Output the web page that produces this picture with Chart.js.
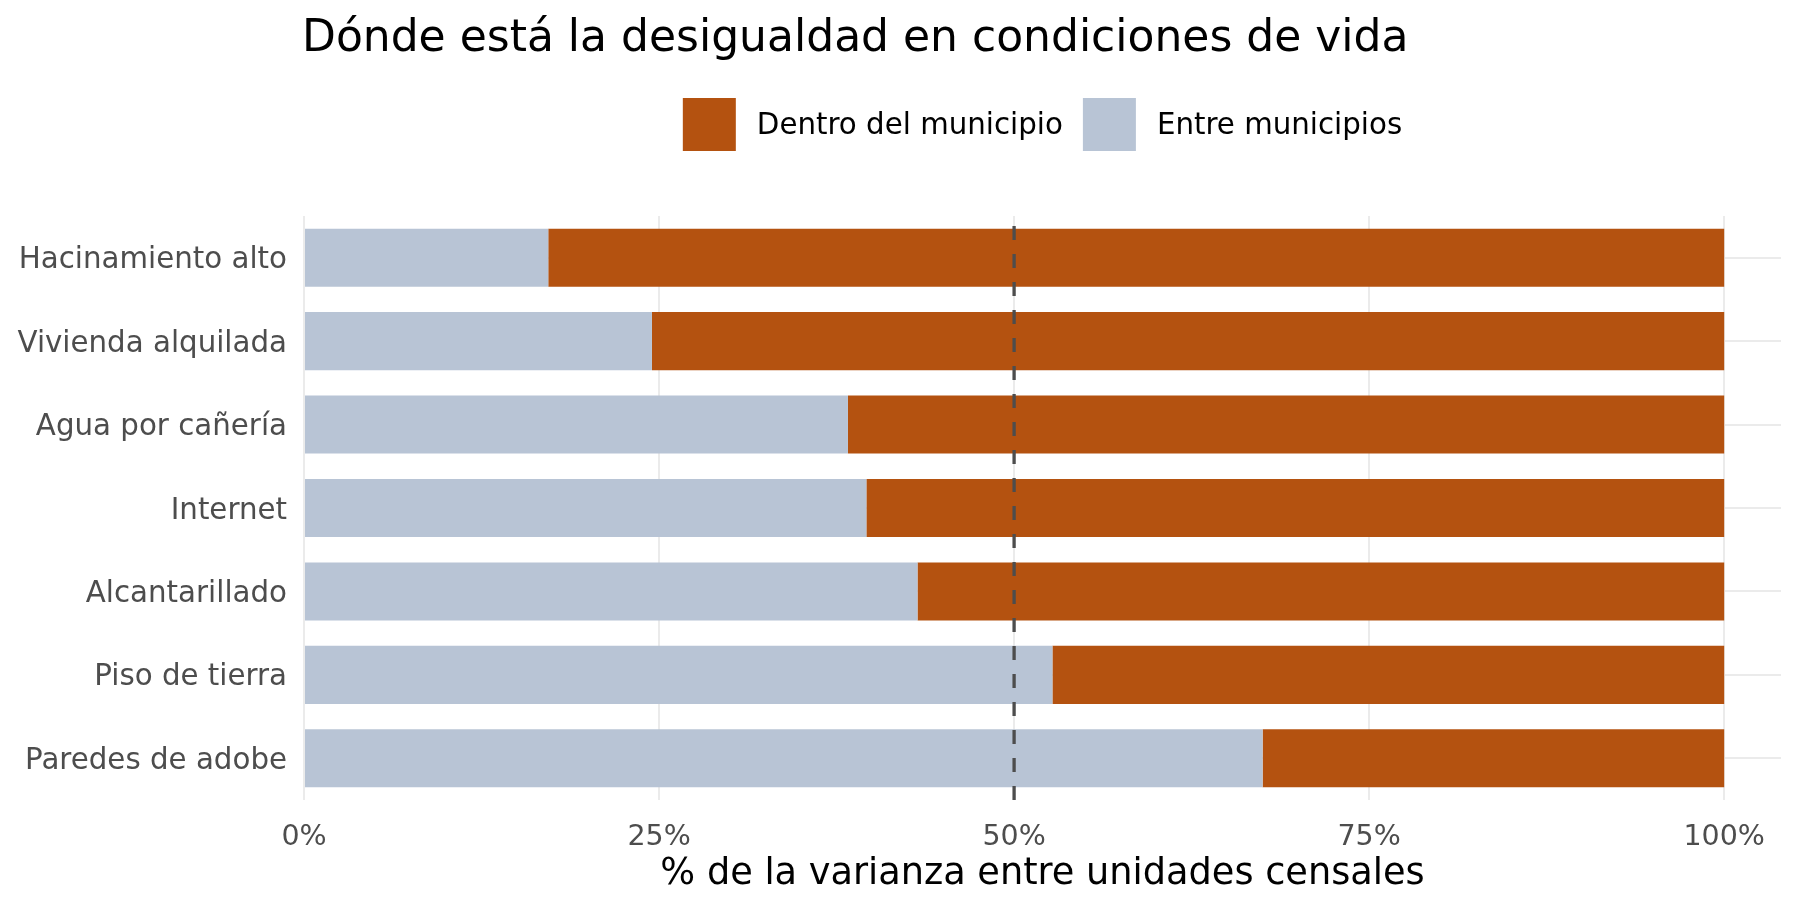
<!DOCTYPE html>
<html lang="es">
<head>
<meta charset="UTF-8">
<title>Desigualdad en condiciones de vida</title>
<script src="https://cdn.jsdelivr.net/npm/chart.js"></script>
<style>
  body { margin: 0; background: #ffffff; }
  #wrap { width: 1800px; height: 912px; }
</style>
</head>
<body>
<div id="wrap"><canvas id="chart" width="1800" height="912"></canvas></div>
<script>
const chartTitle = 'Dónde está la desigualdad en condiciones de vida';
const xTitle = '% de la varianza entre unidades censales';
const categories = ['Hacinamiento alto', 'Vivienda alquilada', 'Agua por cañería', 'Internet', 'Alcantarillado', 'Piso de tierra', 'Paredes de adobe'];
const entreMunicipios = [17.2, 24.5, 38.3, 39.6, 43.2, 52.7, 67.5];
const dentroMunicipio = [82.8, 75.5, 61.7, 60.4, 56.8, 47.3, 32.5];
const xTicks = [0, 25, 50, 75, 100];
const xMax = 104;
const refLine = 50;

const FONT = "'DejaVu Sans', sans-serif";
const RED = '#b45210';
const BLUE = '#b8c4d5';
const GRID = '#ebebeb';
const TEXT_GRAY = '#4d4d4d';

// title + legend drawn over the panel, ggplot style (aligned to the plot area)
const headerPlugin = {
    id: 'header',
    afterDraw(chart) {
        const ctx = chart.ctx;
        const area = chart.chartArea;
        ctx.save();
        ctx.fillStyle = '#000000';
        ctx.font = '44px ' + FONT;
        ctx.textAlign = 'left';
        ctx.textBaseline = 'alphabetic';
        ctx.fillText(chartTitle, area.left - 2, 51);

        // legend, in reverse of stacking order
        const items = chart.data.datasets.slice().reverse();
        const box = 53, gapText = 21, gapItem = 20;
        ctx.font = '29.3px ' + FONT;
        const widths = items.map(d => ctx.measureText(d.label).width);
        let total = 0;
        widths.forEach((w, i) => { total += box + gapText + w + (i ? gapItem : 0); });
        let x = (area.left + area.right) / 2 - total / 2;
        const top = 98;
        ctx.textBaseline = 'middle';
        items.forEach((d, i) => {
            ctx.fillStyle = d.backgroundColor;
            ctx.fillRect(x, top, box, box);
            ctx.fillStyle = '#000000';
            ctx.fillText(d.label, x + box + gapText, top + box / 2 + 2);
            x += box + gapText + widths[i] + gapItem;
        });
        ctx.restore();
    }
};

// dashed reference line at 50%
const refLinePlugin = {
    id: 'refLine',
    afterDatasetsDraw(chart) {
        const ctx = chart.ctx;
        const area = chart.chartArea;
        const x = chart.scales.x.getPixelForValue(refLine);
        ctx.save();
        ctx.strokeStyle = '#4d4d4d';
        ctx.lineWidth = 3.3;
        ctx.setLineDash([14, 14]);
        ctx.beginPath();
        ctx.moveTo(x, area.bottom);
        ctx.lineTo(x, area.top);
        ctx.stroke();
        ctx.restore();
    }
};

new Chart(document.getElementById('chart').getContext('2d'), {
    type: 'bar',
    data: {
        labels: categories,
        datasets: [{
            label: 'Entre municipios',
            data: entreMunicipios,
            backgroundColor: BLUE,
            borderWidth: 0
        }, {
            label: 'Dentro del municipio',
            data: dentroMunicipio,
            backgroundColor: RED,
            borderWidth: 0
        }]
    },
    options: {
        indexAxis: 'y',
        responsive: false,
        devicePixelRatio: 1,
        animation: false,
        barPercentage: 0.696,
        categoryPercentage: 1,
        layout: { padding: { top: 216, right: 19, bottom: 0, left: 0 } },
        plugins: {
            legend: { display: false },
            title: { display: false },
            tooltip: { enabled: false }
        },
        scales: {
            x: {
                type: 'linear',
                stacked: true,
                min: 0,
                max: xMax,
                afterFit: s => { s.height = 112; },
                afterBuildTicks: s => { s.ticks = xTicks.map(v => ({ value: v })); },
                grid: { color: GRID, lineWidth: 2, drawTicks: false },
                border: { display: false },
                ticks: {
                    color: TEXT_GRAY,
                    font: { family: FONT, size: 28.5 },
                    padding: 20,
                    maxRotation: 0,
                    callback: v => v + '%'
                },
                title: {
                    display: true,
                    text: xTitle,
                    color: '#000000',
                    font: { family: FONT, size: 36.7 },
                    padding: { top: 0, bottom: 16 }
                }
            },
            y: {
                type: 'category',
                stacked: true,
                afterFit: s => { s.width = 304; },
                grid: { color: GRID, lineWidth: 2, drawTicks: false, offset: false },
                border: { display: false },
                ticks: {
                    color: TEXT_GRAY,
                    font: { family: FONT, size: 29.3 },
                    padding: 17,
                    labelOffset: 3
                }
            }
        }
    },
    plugins: [headerPlugin, refLinePlugin]
});
</script>
</body>
</html>
